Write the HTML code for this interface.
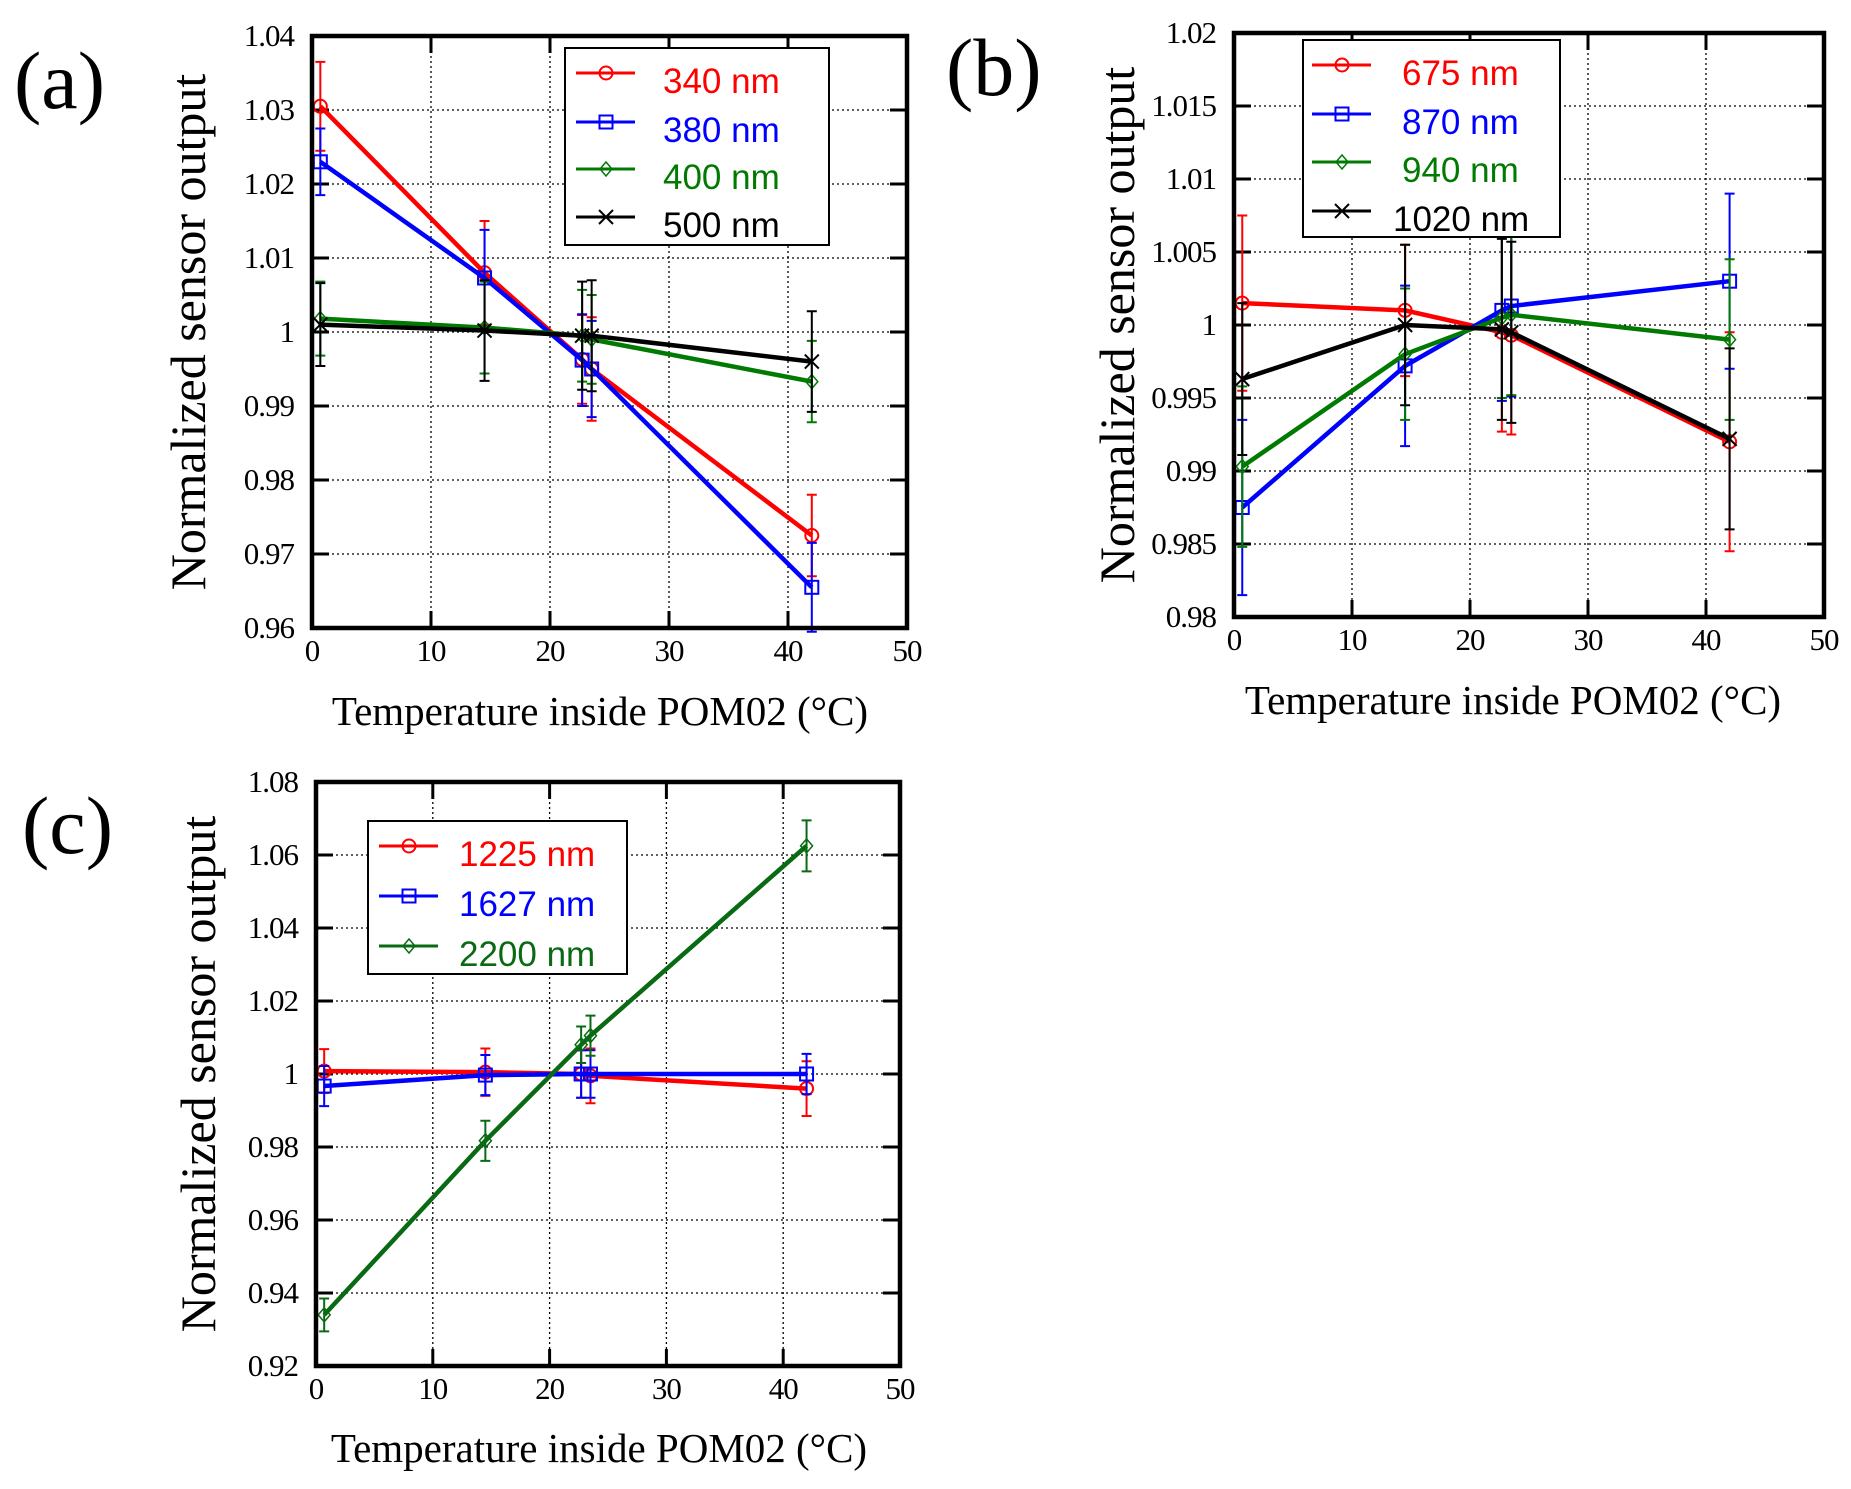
<!DOCTYPE html>
<html><head><meta charset="utf-8"><style>
html,body{margin:0;padding:0;background:#fff;}
svg{display:block;}
.tk{font-family:"Liberation Serif",serif;font-size:31px;letter-spacing:-1px;}
.ttl{font-family:"Liberation Serif",serif;font-size:41px;}
.pl{font-family:"Liberation Serif",serif;font-size:82px;}
.lg{font-family:"Liberation Sans",sans-serif;font-size:35px;}
</style></head><body>
<svg id="chart" width="1851" height="1489" viewBox="0 0 1851 1489" xmlns="http://www.w3.org/2000/svg"></svg>
<script>
// X positions (temperature, °C) shared by all panels
const temps = [0.7, 14.5, 22.7, 23.5, 42];
const xTicks = [0, 10, 20, 30, 40, 50];

// Panel (a)
const aYTicks = [0.96, 0.97, 0.98, 0.99, 1, 1.01, 1.02, 1.03, 1.04];
const aYLabels = ["0.96","0.97","0.98","0.99","1","1.01","1.02","1.03","1.04"];
const aNames = ["340 nm","380 nm","400 nm","500 nm"];
const a340 = [1.0305, 1.008, 0.9963, 0.995, 0.9725];
const a380 = [1.023, 1.0073, 0.9962, 0.995, 0.9655];
const a400 = [1.0018, 1.0006, 0.9995, 0.999, 0.9933];
const a500 = [1.001, 1.0002, 0.9995, 0.9995, 0.996];
const a340Err = [0.006, 0.007, 0.006, 0.007, 0.0055];
const a380Err = [0.0045, 0.0065, 0.0062, 0.0065, 0.006];
const a400Err = [0.005, 0.0062, 0.0062, 0.006, 0.0055];
const a500Err = [0.0056, 0.0068, 0.0073, 0.0075, 0.0068];

// Panel (b)
const bYTicks = [0.98, 0.985, 0.99, 0.995, 1, 1.005, 1.01, 1.015, 1.02];
const bYLabels = ["0.98","0.985","0.99","0.995","1","1.005","1.01","1.015","1.02"];
const bNames = ["675 nm","870 nm","940 nm","1020 nm"];
const b675 = [1.0015, 1.001, 0.9995, 0.9993, 0.992];
const b870 = [0.9875, 0.9972, 1.001, 1.0013, 1.003];
const b940 = [0.9903, 0.998, 1.0005, 1.0007, 0.999];
const b1020 = [0.9963, 1.0, 0.9997, 0.9995, 0.9922];
const b675Err = [0.006, 0.0045, 0.0068, 0.0068, 0.0075];
const b870Err = [0.006, 0.0055, 0.0062, 0.0062, 0.006];
const b940Err = [0.0055, 0.0045, 0.0055, 0.0055, 0.0055];
const b1020Err = [0.0052, 0.0055, 0.0062, 0.0062, 0.0062];

// Panel (c)
const cYTicks = [0.92, 0.94, 0.96, 0.98, 1, 1.02, 1.04, 1.06, 1.08];
const cYLabels = ["0.92","0.94","0.96","0.98","1","1.02","1.04","1.06","1.08"];
const cNames = ["1225 nm","1627 nm","2200 nm"];
const c1225 = [1.0008, 1.0005, 1.0, 0.9995, 0.996];
const c1627 = [0.9967, 0.9997, 1.0, 1.0, 1.0];
const c2200 = [0.934, 0.9817, 1.008, 1.0105, 1.0625];
const c1225Err = [0.006, 0.0065, 0.0065, 0.0075, 0.0075];
const c1627Err = [0.0055, 0.0055, 0.0065, 0.0065, 0.0055];
const c2200Err = [0.0045, 0.0055, 0.005, 0.0055, 0.007];

const NS = "http://www.w3.org/2000/svg";
const svg = document.getElementById('chart');
function mk(tag, attrs, parent) {
  const e = document.createElementNS(NS, tag);
  for (const k in attrs) e.setAttribute(k, attrs[k]);
  (parent || svg).appendChild(e);
  return e;
}

function marker(g, type, cx, cy, color) {
  let m;
  if (type === 'circle') m = mk('circle', {cx: cx, cy: cy, r: 6.5, fill: 'none', stroke: color, 'stroke-width': 2}, g);
  else if (type === 'square') m = mk('rect', {x: cx - 6.5, y: cy - 6.5, width: 13, height: 13, fill: 'none', stroke: color, 'stroke-width': 2}, g);
  else if (type === 'diamond') m = mk('path', {d: `M${cx} ${cy-7}L${cx+6} ${cy}L${cx} ${cy+7}L${cx-6} ${cy}Z`, fill: 'none', stroke: color, 'stroke-width': 1.5}, g);
  else m = mk('path', {d: `M${cx-7} ${cy-7}L${cx+7} ${cy+7}M${cx+7} ${cy-7}L${cx-7} ${cy+7}`, stroke: color, 'stroke-width': 2}, g);
  return m;
}

function panel(p) {
  const g = mk('g', {});
  
  
  const xS = v => p.L + (v - 0) / 50 * (p.R - p.L);
  const y0 = p.yTicks[0], y1 = p.yTicks[p.yTicks.length - 1];
  const yS = v => p.B - (v - y0) / (y1 - y0) * (p.B - p.T);
  const grid = mk('g', {}, g);
  
  
  xTicks.slice(1, -1).forEach(t => mk('line', {x1: xS(t), x2: xS(t), y1: p.T, y2: p.B, stroke: '#000', 'stroke-width': 1.3, 'stroke-dasharray': '2 3'}, grid));
  p.yTicks.slice(1, -1).forEach(t => mk('line', {x1: p.L, x2: p.R, y1: yS(t), y2: yS(t), stroke: '#000', 'stroke-width': 1.3, 'stroke-dasharray': '2 3'}, grid));
  xTicks.forEach(t => {
    mk('line', {x1: xS(t), x2: xS(t), y1: p.B, y2: p.B - 17, stroke: '#000', 'stroke-width': 3}, g);
    mk('line', {x1: xS(t), x2: xS(t), y1: p.T, y2: p.T + 17, stroke: '#000', 'stroke-width': 3}, g);
    const tx = mk('text', {x: xS(t), y: p.B + 33, 'text-anchor': 'middle', class: 'tk'}, g);
    
    
    tx.textContent = String(t);
  });
  p.yTicks.forEach((t, i) => {
    mk('line', {x1: p.L, x2: p.L + 17, y1: yS(t), y2: yS(t), stroke: '#000', 'stroke-width': 3}, g);
    mk('line', {x1: p.R, x2: p.R - 17, y1: yS(t), y2: yS(t), stroke: '#000', 'stroke-width': 3}, g);
    const tx = mk('text', {x: p.L - 18, y: yS(t) + 10, 'text-anchor': 'end', class: 'tk'}, g);
    
    
    tx.textContent = p.yLabels[i];
  });
  p.series.forEach(s => {
    const sg = mk('g', {}, g);
    
    
    s.err.forEach((e, i) => {
      const x = xS(temps[i]);
      mk('path', {d: `M${x} ${yS(s.vals[i]+e)}V${yS(s.vals[i]-e)}M${x-5} ${yS(s.vals[i]+e)}h10M${x-5} ${yS(s.vals[i]-e)}h10`, stroke: s.color, 'stroke-width': 2, fill: 'none'}, sg);
    });
    const pts = s.vals.map((v, i) => xS(temps[i]) + ',' + yS(v)).join(' ');
    const ln = mk('polyline', {points: pts, fill: 'none', stroke: s.color, 'stroke-width': 4.5}, sg);
    
    
    s.vals.forEach((v, i) => {
      const m = marker(sg, s.mk, xS(temps[i]), yS(v), s.color);
      
      
    });
  });
  const fr = mk('rect', {x: p.L, y: p.T, width: p.R - p.L, height: p.B - p.T, fill: 'none', stroke: '#000', 'stroke-width': 4.5}, g);
  
  
  const lg = mk('g', {}, g);
  
  
  mk('rect', {x: p.lg.x, y: p.lg.y, width: p.lg.w, height: p.lg.h, fill: '#fff', stroke: '#000', 'stroke-width': 2}, lg);
  p.series.forEach((s, i) => {
    const ey = p.lg.ey[i];
    const eg = mk('g', {}, lg);
    
    
    mk('line', {x1: p.lg.lx, x2: p.lg.lx + 59, y1: ey, y2: ey, stroke: s.color, 'stroke-width': 3}, eg);
    marker(eg, s.mk, p.lg.lx + 30, ey, s.color);
    const t = mk('text', {x: p.lg.tx[i], y: ey + 20, fill: s.color, class: 'lg'}, eg);
    t.textContent = s.name;
  });
  const xt = mk('text', {x: p.xt[0], y: p.xt[1], 'text-anchor': 'middle', class: 'ttl'}, g);
  
  
  xt.textContent = 'Temperature  inside  POM02 (°C)';
  const yc = (p.T + p.B) / 2;
  const yt = mk('text', {x: p.yt, y: yc, 'text-anchor': 'middle', class: 'ttl', transform: `rotate(-90 ${p.yt} ${yc})`}, g);
  
  
  yt.style.fontSize = '50px';
  yt.textContent = 'Normalized sensor output';
  const pl = mk('text', {x: p.pl[0], y: p.pl[1], class: 'pl'}, g);
  
  
  pl.textContent = p.label;
}

const R = '#ff0000', B = '#0000ff', G = '#007a00', K = '#000000';
panel({id: 'panel-a', label: '(a)', L: 312, R: 907, T: 36, B: 628, yTicks: aYTicks, yLabels: aYLabels,
  series: [
    {name: aNames[0], vals: a340, err: a340Err, color: R, mk: 'circle'},
    {name: aNames[1], vals: a380, err: a380Err, color: B, mk: 'square'},
    {name: aNames[2], vals: a400, err: a400Err, color: G, mk: 'diamond'},
    {name: aNames[3], vals: a500, err: a500Err, color: K, mk: 'cross'}],
  lg: {x: 565, y: 48, w: 264, h: 197, lx: 576, ey: [73, 122, 169, 217], tx: [663, 663, 663, 663]},
  xt: [600, 725], yt: 205, pl: [14, 108]});
panel({id: 'panel-b', label: '(b)', L: 1234, R: 1824, T: 33, B: 617, yTicks: bYTicks, yLabels: bYLabels,
  series: [
    {name: bNames[0], vals: b675, err: b675Err, color: R, mk: 'circle'},
    {name: bNames[1], vals: b870, err: b870Err, color: B, mk: 'square'},
    {name: bNames[2], vals: b940, err: b940Err, color: G, mk: 'diamond'},
    {name: bNames[3], vals: b1020, err: b1020Err, color: K, mk: 'cross'}],
  lg: {x: 1303, y: 40, w: 257, h: 197, lx: 1312, ey: [65, 114, 162, 211], tx: [1402, 1402, 1402, 1393]},
  xt: [1513, 714], yt: 1134, pl: [946, 95]});
panel({id: 'panel-c', label: '(c)', L: 316, R: 900, T: 782, B: 1366, yTicks: cYTicks, yLabels: cYLabels,
  series: [
    {name: cNames[0], vals: c1225, err: c1225Err, color: R, mk: 'circle'},
    {name: cNames[1], vals: c1627, err: c1627Err, color: B, mk: 'square'},
    {name: cNames[2], vals: c2200, err: c2200Err, color: '#0a6a14', mk: 'diamond'}],
  lg: {x: 368, y: 821, w: 259, h: 153, lx: 379, ey: [846, 896, 946], tx: [459, 459, 459]},
  xt: [599, 1462], yt: 215, pl: [22, 853]});
</script>
</body></html>
